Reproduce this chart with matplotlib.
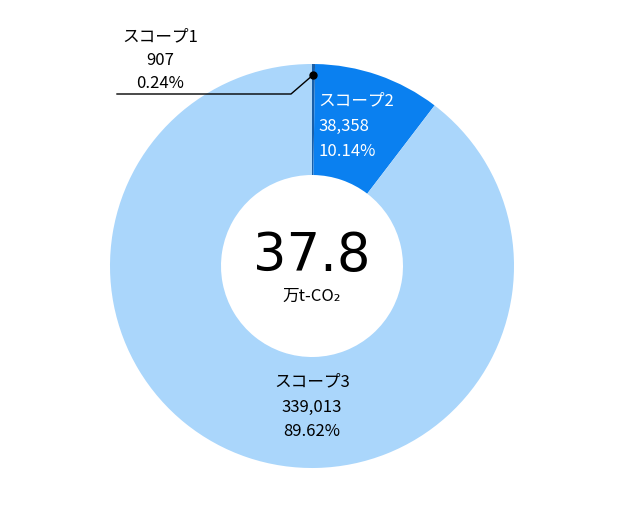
import matplotlib
matplotlib.use("Agg")
import matplotlib.pyplot as plt

plt.rcParams['font.family'] = ['Noto Sans CJK JP', 'DejaVu Sans']

names = ["スコープ1", "スコープ2", "スコープ3"]
values = [907, 38358, 339013]
value_labels = ["907", "38,358", "339,013"]
pct_labels = ["0.24%", "10.14%", "89.62%"]
colors = ["#1a5fa8", "#0a80f0", "#aad6fb"]
total_label = "37.8"
unit_label = "万t-CO₂"

W, H = 624, 511
fig = plt.figure(figsize=(W/100, H/100), dpi=100)
ax = fig.add_axes([0, 0, 1, 1])
ax.set_xlim(0, W); ax.set_ylim(0, H); ax.axis('off')

cx, cy = 312, H - 266
ax.pie(values, colors=colors, startangle=90, counterclock=False,
       radius=202, center=(cx, cy), frame=True,
       wedgeprops=dict(width=111, linewidth=0))
ax.set_xlim(0, W); ax.set_ylim(0, H); ax.set_aspect('equal'); ax.axis('off')

def Y(p): return H - p

ax.text(cx, Y(256), total_label, ha='center', va='center', fontsize=38, family=['DejaVu Sans'])
ax.text(cx, Y(296), unit_label, ha='center', va='center', fontsize=12)

# scope1 label with leader
for i, t in enumerate([names[0], value_labels[0], pct_labels[0]]):
    ax.text(160, Y(37 + 23*i), t, ha='center', va='center', fontsize=12)
ax.plot([117, 291, 313], [Y(94), Y(94), Y(75)], color='black', lw=1)
ax.plot([313], [Y(75)], 'o', color='black', ms=5)

for i, t in enumerate([names[1], value_labels[1], pct_labels[1]]):
    ax.text(318, Y(101 + 25*i), t, ha='left', va='center', fontsize=12, color='white')
for i, t in enumerate([names[2], value_labels[2], pct_labels[2]]):
    ax.text(312, Y(382 + 25*i), t, ha='center', va='center', fontsize=12)

fig.savefig("out.png", dpi=100)
